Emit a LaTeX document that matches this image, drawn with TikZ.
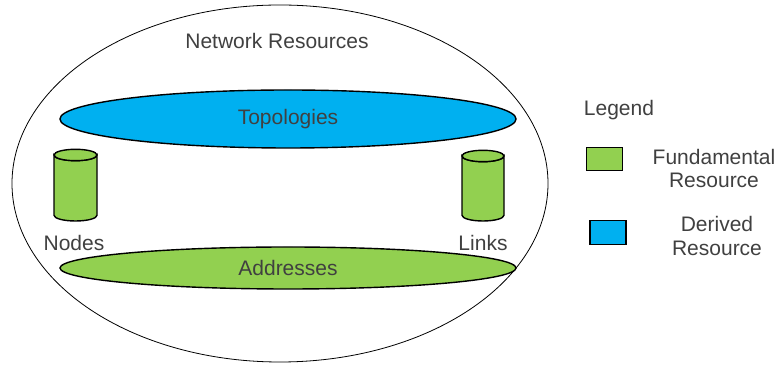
\documentclass[tikz,border=0pt]{standalone}
\usepackage{fontspec}
\setmainfont{Liberation Sans}
\usetikzlibrary{shapes.geometric}
\definecolor{fundgreen}{HTML}{92D050}
\definecolor{derblue}{HTML}{00B0F0}
\definecolor{txtgray}{HTML}{404040}
\begin{document}
\begin{tikzpicture}[x=1pt,y=1pt,
  lbl/.style={text=txtgray,font=\fontsize{21}{23.5}\selectfont,inner sep=0pt,align=center},
  fundshape/.style={fill=fundgreen,draw=black,line width=1.4pt},
  dershape/.style={fill=derblue,draw=black,line width=1.4pt}]
\useasboundingbox (0,0) rectangle (780,366);
% outer ellipse
\node[draw=black,line width=0.8pt,ellipse,minimum width=536pt,minimum height=357pt,inner sep=0pt] (outer) at (280,182.5) {};
\node[lbl] (title) at (277,325) {Network Resources};
% Topologies
\draw[dershape] (288,247) ellipse [x radius=228, y radius=29];
\node[lbl] (topo) at (288,247) {Topologies};
% Addresses
\draw[fundshape] (288,98) ellipse [x radius=228, y radius=21];
\node[lbl] (addr) at (288,98) {Addresses};
% Nodes cylinder
\draw[fundshape] (54,211) -- (54,150.7) arc[start angle=180,end angle=360,x radius=21.5,y radius=5.7] -- (97,211) arc[start angle=0,end angle=-180,x radius=21.5,y radius=5.7] -- cycle;
\draw[fundshape] (75.5,211) ellipse [x radius=21.5, y radius=5.7];
\node[lbl] (nodes) at (74,123) {Nodes};
% Links cylinder
\draw[fundshape] (462,210) -- (462,150.7) arc[start angle=180,end angle=360,x radius=21,y radius=5.7] -- (504,210) arc[start angle=0,end angle=-180,x radius=21,y radius=5.7] -- cycle;
\draw[fundshape] (483,210) ellipse [x radius=21, y radius=5.7];
\node[lbl] (links) at (483,123) {Links};
% Legend
\node[lbl] (legend) at (619,256) {Legend};
\node[fundshape,line width=1.2pt,minimum width=36pt,minimum height=23pt,inner sep=0pt] (lgreen) at (604.5,207) {};
\node[lbl,align=center] (lfund) at (714,197.5) {Fundamental\\Resource};
\node[dershape,line width=1.2pt,minimum width=36pt,minimum height=24pt,inner sep=0pt] (lblue) at (608,133.5) {};
\node[lbl,align=center] (lder) at (717,130) {Derived\\Resource};
\end{tikzpicture}
\end{document}
